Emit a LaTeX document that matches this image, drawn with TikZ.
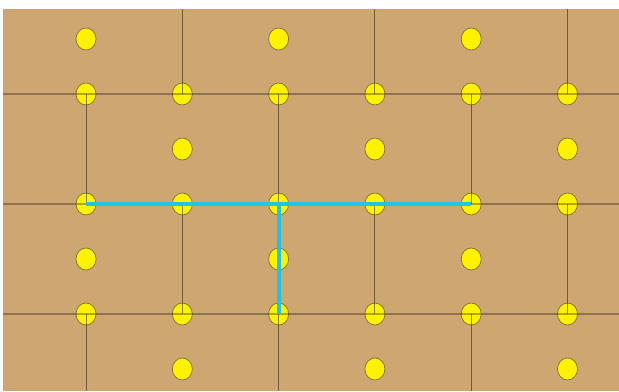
\documentclass[tikz,border=0pt]{standalone}
\usetikzlibrary{positioning, shapes.geometric}
\definecolor{board}{RGB}{205,166,114}
\definecolor{pathblue}{RGB}{30,198,228}
\definecolor{dotrim}{RGB}{125,115,40}
\tikzset{
  dot/.style={ellipse, draw=dotrim, fill=yellow, line width=0.6pt,
              inner sep=0pt, minimum width=0.6cm, minimum height=0.66cm},
  hline/.style={draw=black, draw opacity=0.3, line width=0.9pt},
  vline/.style={draw=black, draw opacity=0.45, line width=0.8pt},
  route/.style={draw=pathblue, line width=3.4pt},
}
\begin{document}
\begin{tikzpicture}[x=0.03cm, y=-0.03cm]
  \useasboundingbox (0,0) rectangle (619,391);
  \fill[board] (3,9) rectangle (619,391);
  % points of the lattice
  \foreach \r/\cols in {0/{0,2,4}, 1/{0,1,2,3,4,5}, 2/{1,3,5},
                        3/{0,1,2,3,4,5}, 4/{0,2,4}, 5/{0,1,2,3,4,5}, 6/{1,3,5}}
    \foreach \c in \cols {
      \pgfmathsetmacro\xx{86+96.3*\c}
      \pgfmathsetmacro\yy{39+55*\r}
      \node[dot] (d-\r-\c) at (\xx,\yy) {};
    }
  % brick lines
  \foreach \r in {1,3,5}
    \draw[hline] (3,39+55*\r) -- (619,39+55*\r);
  \foreach \c in {1,3,5} {
    \draw[vline] (86+96.3*\c,9) -- (d-1-\c.center);
    \draw[vline] (d-3-\c.center) -- (d-5-\c.center);
  }
  \foreach \c in {0,2,4} {
    \draw[vline] (d-1-\c.center) -- (d-3-\c.center);
    \draw[vline] (d-5-\c.center) -- (86+96.3*\c,391);
  }
  % highlighted route
  \draw[route] (d-3-0.center) -- (d-3-4.center);
  \draw[route] (d-3-2.center) -- (d-5-2.center);
\end{tikzpicture}
\end{document}
